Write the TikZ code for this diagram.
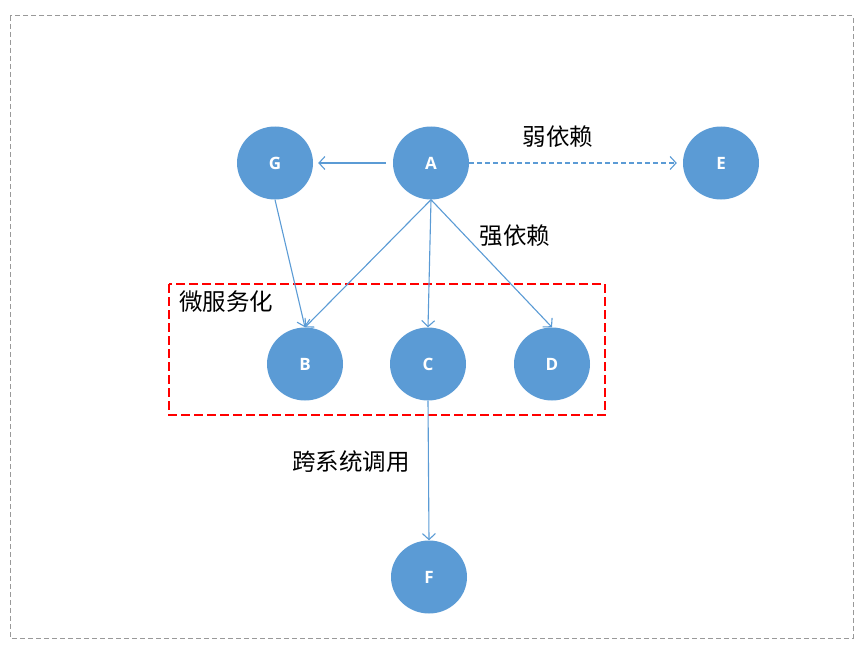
\documentclass[tikz,border=0pt]{standalone}
\usepackage{fontspec}
\setmainfont{Noto Sans CJK SC}
\newfontfamily\letterfont{Open Sans}
\usetikzlibrary{arrows.meta, positioning, shapes.geometric}
\definecolor{nodeblue}{HTML}{5B9BD5}

\begin{document}
\begin{tikzpicture}[
    x=1pt, y=-1pt,
    svcnode/.style = {ellipse, fill=nodeblue, draw=none, minimum width=76pt, minimum height=73pt, inner sep=0pt, text=white, font=\letterfont\bfseries\fontsize{17}{17}\selectfont},
    dep/.style = {draw=nodeblue, line width=1.1pt, -{Straight Barb[length=6pt, width=13pt]}},
    weakdep/.style = {dep, dash pattern=on 5pt off 3pt},
    tag/.style = {font=\fontsize{23.5}{24}\selectfont, text=black, inner sep=0pt},
    outer/.style = {draw=black!40, line width=1pt, dash pattern=on 5pt off 3pt},
    group/.style = {draw=red, line width=1.5pt, dash pattern=on 9pt off 4pt}
]
\useasboundingbox (0,0) rectangle (864,650);
\draw [outer] (10,16) rectangle (853,638);

\node (svc_g) [svcnode] at (275,163) {G};
\node (svc_a) [svcnode] at (431,163) {A};
\node (svc_e) [svcnode] at (721,163) {E};
\node (svc_b) [svcnode] at (305,364) {B};
\node (svc_c) [svcnode] at (428,364) {C};
\node (svc_d) [svcnode] at (552,364) {D};
\node (svc_f) [svcnode] at (429,577) {F};

\draw [group] (169,284) rectangle (605,415);

\node (lbl_weak) [tag] at (558,137) {弱依赖};
\node (lbl_strong) [tag] at (515,236) {强依赖};
\node (lbl_micro) [tag] at (226,302) {微服务化};
\node (lbl_cross) [tag] at (351,462) {跨系统调用};

\draw [dep, shorten <=7pt, shorten >=5pt] (svc_a.west) -- (svc_g.east);
\draw [weakdep, shorten >=6pt] (svc_a.east) -- (svc_e.west);
\draw [dep] (svc_a.south) -- (svc_b.north);
\draw [dep] (svc_a.south) -- (svc_c.north);
\draw [dep] (svc_a.south) -- (svc_d.north);
\draw [dep] (svc_g.south) -- (svc_b.north);
\draw [dep] (svc_c.south) -- (svc_f.north);

\end{tikzpicture}
\end{document}
